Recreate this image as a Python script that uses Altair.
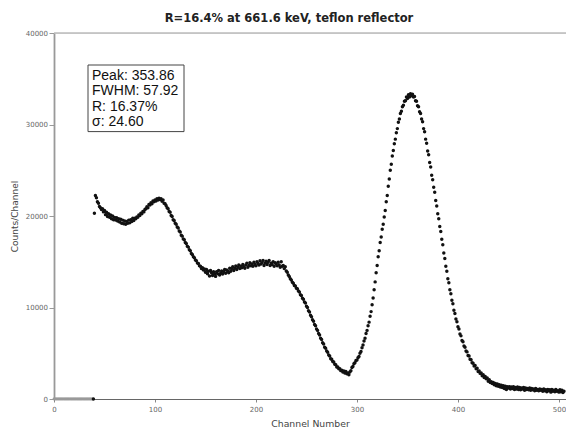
import altair as alt
import pandas as pd

# ---- data ----
zero_channels = list(range(0, 39))
zero_counts = [0] * 39

first_channel = 39
counts = [
    0,
    20300, 22250, 22000, 21550, 21400, 21050, 20900, 20700, 20800, 20450,
    20600, 20150, 20400, 19950, 20250, 19850, 20100, 19700, 20000, 19600,
    19850, 19550, 19800, 19450, 19700, 19350, 19650, 19200, 19550, 19150,
    19450, 19100, 19400, 19200, 19550, 19250, 19600, 19400, 19750, 19500,
    19750, 19700, 19900, 19850, 20100, 20050, 20300, 20250, 20500, 20450,
    20700, 20800, 21000, 20900, 21250, 21200, 21450, 21350, 21650, 21550,
    21750, 21650, 21900, 21750, 21950, 21800, 21900, 21600, 21750, 21400,
    21350, 21150, 20900, 20800, 20500, 20400, 20050, 19950, 19600, 19500,
    19200, 19100, 18800, 18700, 18350, 18250, 17900, 17800, 17500, 17400,
    17100, 17000, 16700, 16600, 16300, 16200, 15900, 15800, 15550, 15450,
    15200, 15100, 14850, 14800, 14550, 14500, 14250, 14350, 14100, 14200,
    13850, 14150, 13700, 13950, 13450, 14050, 13800, 13500, 13900, 13650,
    13400, 13900, 13700, 14050, 13550, 13750, 14000, 13650, 13900, 14150,
    13750, 14100, 14000, 13800, 14300, 13950, 14250, 14450, 14050, 14300,
    14550, 14150, 14400, 14650, 14250, 14500, 14350, 14700, 14450, 14300,
    14650, 14850, 14400, 14600, 14900, 14550, 14750, 14500, 14950, 14700,
    14550, 15000, 14800, 14650, 15100, 14750, 14900, 15150, 14600, 14850,
    15050, 14700, 14950, 15150, 14600, 14850, 14700, 15000, 14500, 14900,
    14750, 14550, 14950, 14650, 14400, 15000, 14500, 14600, 14250, 14450,
    14000, 13850, 13550, 13400, 13150, 13000, 12750, 12650, 12400, 12350,
    12100, 12050, 11800, 11700, 11400, 11300, 11000, 10900, 10600, 10500,
    10150, 10000, 9650, 9500, 9150, 9000, 8650, 8500, 8150, 8000,
    7650, 7500, 7150, 7000, 6650, 6500, 6150, 6000, 5650, 5550,
    5250, 5100, 4800, 4700, 4400, 4350, 4100, 4050, 3800, 3750,
    3500, 3500, 3300, 3300, 3100, 3150, 2950, 3050, 2850, 3000,
    2750, 2850, 2650, 2950, 3100, 3450, 3550, 3850, 3950, 4200,
    4250, 4500, 4650, 5000, 5200, 5600, 5900, 6350, 6650, 7150,
    7500, 8000, 8400, 9050, 9550, 10300, 11050, 11950, 12800, 13800,
    14600, 15550, 16200, 17100, 17700, 18550, 19100, 19900, 20600, 21550,
    22250, 23250, 24050, 25000, 25650, 26550, 27150, 27900, 28400, 29100,
    29550, 30250, 30600, 31200, 31450, 31950, 32100, 32550, 32600, 33000,
    32850, 33250, 33000, 33350, 33150, 33300, 33000, 33050, 32600, 32550,
    32050, 31950, 31400, 31200, 30600, 30300, 29550, 29200, 28400, 27950,
    27100, 26700, 25850, 25350, 24450, 23950, 23150, 22600, 21700, 21100,
    20250, 19700, 18850, 18300, 17450, 16850, 15950, 15350, 14500, 13950,
    13150, 12700, 11950, 11500, 10800, 10400, 9700, 9350, 8750, 8450,
    7900, 7650, 7100, 6900, 6400, 6250, 5800, 5650, 5250, 5150,
    4750, 4700, 4350, 4300, 3950, 3900, 3600, 3650, 3300, 3350,
    3000, 3050, 2800, 2850, 2550, 2650, 2350, 2450, 2200, 2300,
    1950, 2100, 1800, 1900, 1700, 1800, 1550, 1700, 1450, 1650,
    1400, 1550, 1300, 1500, 1250, 1450, 1150, 1400, 1050, 1350,
    1200, 1350, 1100, 1300, 1150, 1350, 1050, 1250, 1100, 1300,
    1050, 1250, 1000, 1200, 1100, 1250, 950, 1200, 1050, 1150,
    1000, 1200, 950, 1150, 1000, 1100, 900, 1150, 950, 1050,
    900, 1100, 950, 1050, 850, 1100, 900, 1000, 800, 1050,
    900, 1000, 750, 1050, 850, 950, 800, 1050, 850, 900,
    750, 1000, 800, 950, 700, 850,
]
channels = list(range(first_channel, first_channel + len(counts)))

x_ticks = [0, 100, 200, 300, 400, 500]
y_ticks = [0, 10000, 20000, 30000, 40000]

title_text = "R=16.4% at 661.6 keV, teflon reflector"
fit_lines = ["Peak: 353.86", "FWHM: 57.92", "R: 16.37%", "\u03c3: 24.60"]

df = pd.DataFrame({"channel": channels, "counts": counts})
df_zero = pd.DataFrame({"channel": zero_channels, "counts": zero_counts})

W, H = 512, 366

xscale = alt.Scale(domain=[0, 507], nice=False, zero=False)
yscale = alt.Scale(domain=[0, 40000], nice=False)

x_enc = alt.X(
    "channel:Q", scale=xscale,
    axis=alt.Axis(
        values=x_ticks, title="Channel Number", grid=False,
        domainColor="#666", domainWidth=1.2, tickColor="#888", tickSize=3,
        labelFont="DejaVu Sans", labelFontSize=7, labelColor="#666",
        labelPadding=3, labelFlush=False,
        titleFont="DejaVu Sans", titleFontSize=9.3, titleFontWeight="normal",
        titleColor="#444", titleY=24, titleBaseline="middle",
    ),
)
y_enc = alt.Y(
    "counts:Q", scale=yscale,
    axis=alt.Axis(
        values=y_ticks, title="Counts/Channel", grid=False, format="d",
        domainColor="#999", domainWidth=1.8, tickColor="#999", tickSize=5,
        labelFont="DejaVu Sans", labelFontSize=7, labelColor="#666",
        labelPadding=1.5, labelFlush=False,
        titleFont="DejaVu Sans", titleFontSize=9, titleFontWeight="normal",
        titleColor="#444", titleX=-40, titleY=H / 2, titleBaseline="middle",
        titleAlign="center", titleAngle=270,
    ),
)

zeros = alt.Chart(df_zero).mark_circle(size=8, color="#999", opacity=1).encode(
    x=x_enc, y=y_enc
)
points = alt.Chart(df).mark_circle(size=12, color="#111", opacity=1).encode(
    x=x_enc, y=y_enc
)

top_line = alt.Chart(df.head(1)).mark_rule(color="#bbb", strokeWidth=1.5).encode(
    x=alt.value(0), x2=alt.value(W), y=alt.value(0)
)

box = alt.Chart(df.head(1)).mark_rect(
    fill="white", stroke="#444", strokeWidth=1
).encode(
    x=alt.value(34), x2=alt.value(130), y=alt.value(32), y2=alt.value(98.6)
)

box_text = alt.Chart(df.head(1)).mark_text(
    align="left", baseline="alphabetic", font="Liberation Sans",
    fontSize=14, lineHeight=15.2, color="#111",
).encode(
    x=alt.value(38), y=alt.value(47.2), text=alt.value(fit_lines)
)

chart = (
    alt.layer(top_line, zeros, points, box, box_text)
    .properties(
        width=W, height=H,
        title=alt.TitleParams(
            text=title_text, font="DejaVu Sans", fontSize=11.5,
            fontWeight="bold", color="#222", anchor="middle",
            baseline="alphabetic", offset=-4, dx=-21,
        ),
        autosize=alt.AutoSizeParams(type="none"),
        padding={"left": 54, "top": 33, "right": 0, "bottom": 29},
    )
    .configure_view(stroke=None)
    .configure(background="white")
)

chart.save("out.html", embed_options={"renderer": "svg", "actions": False})
